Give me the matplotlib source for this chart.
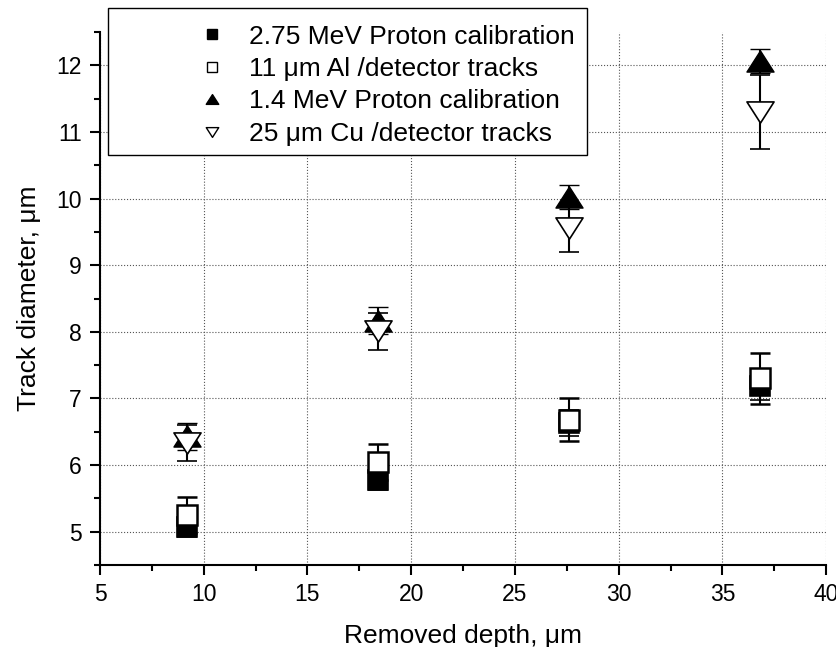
import matplotlib
matplotlib.use("Agg")
import matplotlib.pyplot as plt
from matplotlib.lines import Line2D
from matplotlib.patches import Rectangle
from matplotlib.path import Path
from matplotlib.ticker import MultipleLocator

plt.rcParams["font.family"] = ["Liberation Sans", "DejaVu Sans"]

# removed depth (um)
depth = [9.2, 18.4, 27.6, 36.8]

# track diameters (um) and errors
p275 = [5.07, 5.78, 6.63, 7.18]
p275_err = [0.15, 0.15, 0.20, 0.20]
al11 = [5.25, 6.05, 6.68, 7.30]
al11_err = [0.27, 0.27, 0.32, 0.38]
p14 = [6.43, 8.17, 10.03, 12.07]
p14_err = [0.20, 0.20, 0.18, 0.18]
cu25 = [6.33, 8.01, 9.56, 11.30]
cu25_err = [0.27, 0.28, 0.36, 0.55]

labels = [
    "2.75 MeV Proton calibration",
    "11 μm Al /detector tracks",
    "1.4 MeV Proton calibration",
    "25 μm Cu /detector tracks",
]

tri_up = Path([(-1, -0.78), (1, -0.78), (0, 0.78), (-1, -0.78)], closed=True)
tri_down = Path([(-1, 0.78), (1, 0.78), (0, -0.78), (-1, 0.78)], closed=True)

fig = plt.figure(figsize=(8.37, 6.47), dpi=100)
ax = fig.add_axes([0.1195, 0.1267, 0.8675, 0.8238])

err_kw = dict(ecolor="black", elinewidth=1.5, capsize=7, capthick=1.5,
              linestyle="none", markeredgecolor="black")

ax.errorbar(depth, p275, yerr=p275_err, marker="s", markersize=14,
            markerfacecolor="black", markeredgewidth=1.2, **err_kw)
ax.errorbar(depth, al11, yerr=al11_err, marker="s", markersize=14,
            markerfacecolor="white", markeredgewidth=1.8, **err_kw)
ax.errorbar(depth, p14, yerr=p14_err, marker=tri_up, markersize=19.5,
            markerfacecolor="black", markeredgewidth=1.0, **err_kw)
ax.errorbar(depth, cu25, yerr=cu25_err, marker=tri_down, markersize=19.5,
            markerfacecolor="white", markeredgewidth=1.2, **err_kw)

ax.set_xlim(5, 40)
ax.set_ylim(4.5, 12.5)
ax.xaxis.set_major_locator(MultipleLocator(5))
ax.xaxis.set_minor_locator(MultipleLocator(2.5))
ax.yaxis.set_major_locator(MultipleLocator(1))
ax.yaxis.set_minor_locator(MultipleLocator(0.5))

ax.spines["top"].set_visible(False)
ax.spines["right"].set_visible(False)
for s in ("left", "bottom"):
    ax.spines[s].set_linewidth(1.5)
ax.tick_params(which="major", direction="out", length=7, width=1.5,
               labelsize=16.5, pad=6)
ax.tick_params(which="minor", direction="out", length=4, width=1.5)
ax.grid(True, which="major", linestyle=":", color="#555555", linewidth=0.8)
ax.set_axisbelow(True)

ax.set_xlabel("Removed depth, μm", fontsize=19, labelpad=13)
ax.set_ylabel("Track diameter, μm", fontsize=19, labelpad=11)

handles = [
    Line2D([], [], linestyle="none", marker="s", markersize=7,
           markerfacecolor="black", markeredgecolor="black"),
    Line2D([], [], linestyle="none", marker="s", markersize=7,
           markerfacecolor="white", markeredgecolor="black", markeredgewidth=1),
    Line2D([], [], linestyle="none", marker=tri_up, markersize=9,
           markerfacecolor="black", markeredgecolor="black"),
    Line2D([], [], linestyle="none", marker=tri_down, markersize=9,
           markerfacecolor="white", markeredgecolor="black", markeredgewidth=1),
]
leg = fig.legend(handles, labels, loc="upper left",
                 bbox_to_anchor=(0.234, 0.962), frameon=False, fontsize=19,
                 handlelength=1.2, handletextpad=0.8, labelspacing=0.32,
                 borderaxespad=0, borderpad=0)
leg.set_zorder(11)
box = Rectangle((108 / 837, 1 - 155 / 647), 479 / 837, 147 / 647,
                transform=fig.transFigure, facecolor="white",
                edgecolor="black", linewidth=1.0, zorder=10)
fig.patches.append(box)

fig.savefig("out.png", dpi=100)
